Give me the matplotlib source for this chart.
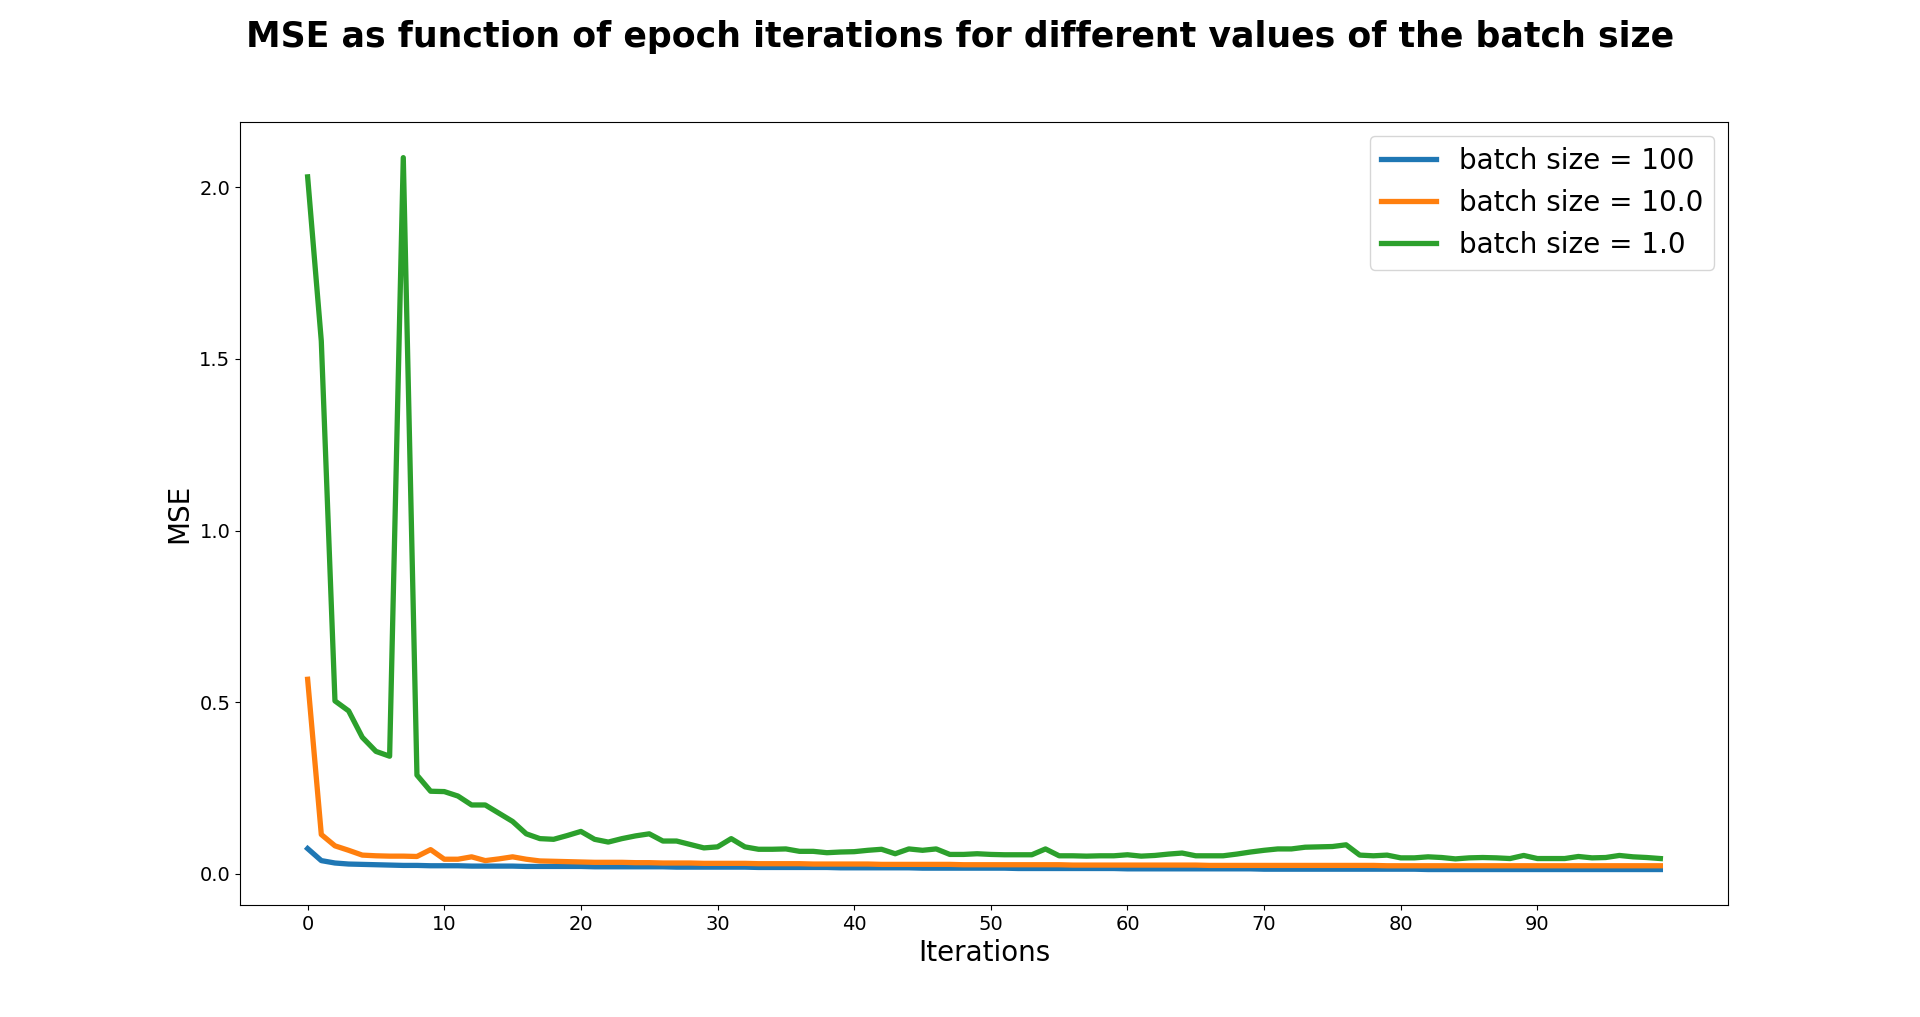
import numpy as np
import matplotlib
matplotlib.use('Agg')
import matplotlib.pyplot as plt

iterations = np.arange(100)

batch_sizes = ['100', '10.0', '1.0']

mse_b100 = [0.074, 0.039, 0.032, 0.029, 0.028, 0.027, 0.026, 0.025, 0.025, 0.024,
            0.024, 0.024, 0.023, 0.023, 0.023, 0.023, 0.022, 0.022, 0.022, 0.022,
            0.022, 0.021, 0.021, 0.021, 0.021, 0.021, 0.021, 0.020, 0.020, 0.020,
            0.020, 0.020, 0.020, 0.019, 0.019, 0.019, 0.019, 0.019, 0.019, 0.018,
            0.018, 0.018, 0.018, 0.018, 0.018, 0.017, 0.017, 0.017, 0.017, 0.017,
            0.017, 0.017, 0.016, 0.016, 0.016, 0.016, 0.016, 0.016, 0.016, 0.016,
            0.015, 0.015, 0.015, 0.015, 0.015, 0.015, 0.015, 0.015, 0.015, 0.015,
            0.014, 0.014, 0.014, 0.014, 0.014, 0.014, 0.014, 0.014, 0.014, 0.014,
            0.014, 0.014, 0.013, 0.013, 0.013, 0.013, 0.013, 0.013, 0.013, 0.013,
            0.013, 0.013, 0.013, 0.013, 0.013, 0.013, 0.013, 0.013, 0.013, 0.013]

mse_b10 = [0.567, 0.115, 0.082, 0.069, 0.055, 0.053, 0.052, 0.052, 0.051, 0.071,
           0.043, 0.043, 0.050, 0.039, 0.044, 0.050, 0.043, 0.038, 0.037, 0.036,
           0.035, 0.034, 0.034, 0.034, 0.033, 0.033, 0.032, 0.032, 0.032, 0.031,
           0.031, 0.031, 0.031, 0.030, 0.030, 0.030, 0.030, 0.029, 0.029, 0.029,
           0.029, 0.029, 0.028, 0.028, 0.028, 0.028, 0.028, 0.028, 0.027, 0.027,
           0.027, 0.027, 0.027, 0.027, 0.027, 0.027, 0.026, 0.026, 0.026, 0.026,
           0.026, 0.026, 0.026, 0.026, 0.026, 0.026, 0.025, 0.025, 0.025, 0.025,
           0.025, 0.025, 0.025, 0.025, 0.025, 0.025, 0.025, 0.025, 0.025, 0.024,
           0.024, 0.024, 0.024, 0.024, 0.024, 0.024, 0.024, 0.024, 0.024, 0.024,
           0.024, 0.024, 0.024, 0.024, 0.024, 0.024, 0.024, 0.024, 0.024, 0.024]

mse_b1 = [2.030, 1.552, 0.504, 0.475, 0.398, 0.357, 0.343, 2.086, 0.288, 0.241,
          0.240, 0.227, 0.201, 0.201, 0.177, 0.153, 0.117, 0.103, 0.101, 0.112,
          0.124, 0.101, 0.093, 0.103, 0.111, 0.117, 0.096, 0.096, 0.086, 0.076,
          0.079, 0.103, 0.079, 0.072, 0.072, 0.073, 0.066, 0.066, 0.062, 0.064,
          0.065, 0.069, 0.072, 0.059, 0.073, 0.069, 0.073, 0.057, 0.057, 0.059,
          0.057, 0.056, 0.056, 0.056, 0.073, 0.053, 0.053, 0.052, 0.053, 0.053,
          0.056, 0.052, 0.054, 0.058, 0.061, 0.053, 0.053, 0.053, 0.058, 0.064,
          0.069, 0.073, 0.073, 0.078, 0.079, 0.080, 0.085, 0.055, 0.053, 0.055,
          0.047, 0.047, 0.050, 0.048, 0.044, 0.047, 0.048, 0.047, 0.045, 0.054,
          0.045, 0.045, 0.045, 0.051, 0.047, 0.048, 0.054, 0.050, 0.048, 0.045]

fig = plt.figure(figsize=(19.2, 10.17), dpi=100)
ax = fig.add_subplot(111)

for bs, mse in zip(batch_sizes, [mse_b100, mse_b10, mse_b1]):
    ax.plot(iterations, mse, linewidth=3.8, label='batch size = ' + bs)

ax.set_xticks(np.arange(0, 100, 10))
ax.tick_params(labelsize=14)
ax.set_xlabel('Iterations', fontsize=20)
ax.set_ylabel('MSE', fontsize=20)
ax.legend(fontsize=20, loc='upper right')
fig.suptitle('MSE as function of epoch iterations for different values of the batch size',
             fontsize=25, fontweight='bold')

fig.savefig('out.png', dpi=100)
